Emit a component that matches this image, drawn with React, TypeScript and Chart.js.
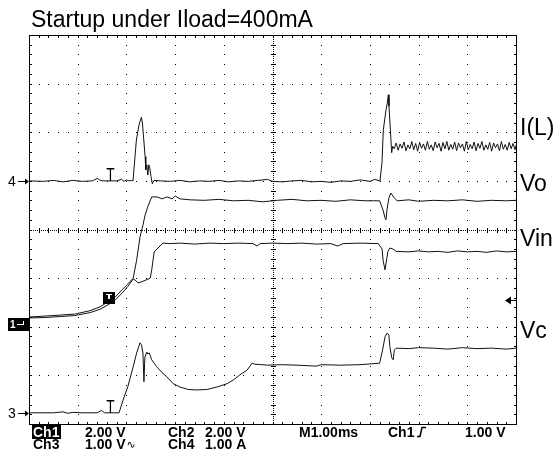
import React, { useEffect, useRef } from "react";
import { Chart, registerables } from "chart.js";

Chart.register(...registerables);

// ---- Data (x: time in ms = divisions at 1.00 ms/div, y: screen divisions 0..8) ----
const titleText = "Startup under Iload=400mA";

const iLTime = [
  0, 0.3, 0.5, 0.7, 0.9, 1.1, 1.3, 1.4, 1.45, 1.5, 1.6, 1.8, 1.9, 1.95, 2.0, 2.05, 2.1, 2.136,
  2.171, 2.205, 2.259, 2.308, 2.329, 2.357, 2.384, 2.398, 2.419, 2.44, 2.46, 2.48, 2.505, 2.532, 2.567,
  2.7, 2.9, 3.1, 3.3, 3.5, 3.7, 3.9, 4.1, 4.3, 4.5, 4.7, 4.9, 5.0, 5.2, 5.4, 5.6, 5.8, 6.0, 6.2, 6.4,
  6.6, 6.8, 7.0, 7.1, 7.207, 7.248, 7.276, 7.331, 7.357, 7.378, 7.392, 7.421, 7.447, 7.468,
  7.5, 7.54, 7.58, 7.62, 7.66, 7.7, 7.74, 7.78, 7.82, 7.86, 7.9, 7.94, 7.98, 8.02, 8.06, 8.1, 8.14,
  8.18, 8.22, 8.26, 8.3, 8.34, 8.38, 8.42, 8.46, 8.5, 8.54, 8.58, 8.62, 8.66, 8.7, 8.74, 8.78, 8.82,
  8.86, 8.9, 8.94, 8.98, 9.02, 9.06, 9.1, 9.14, 9.18, 9.22, 9.26, 9.3, 9.34, 9.38, 9.42, 9.46, 9.5,
  9.54, 9.58, 9.62, 9.66, 9.7, 9.74, 9.78, 9.82, 9.86, 9.9, 9.94, 9.98, 10.0,
];
const iLValue = [
  5.0, 4.99, 5.01, 4.98, 5.01, 4.99, 5.0, 5.05, 5.02, 5.0, 5.0, 5.0, 5.03, 4.99, 5.02, 5.0, 5.01, 5.0,
  5.43, 5.84, 6.15, 6.31, 6.19, 5.84, 5.5, 5.23, 5.33, 5.12, 5.33, 5.27, 5.09, 4.94, 5.01,
  5.0, 4.99, 5.01, 4.98, 5.0, 4.99, 5.01, 4.98, 5.0, 4.99, 5.01, 5.03, 4.99, 4.98, 5.0, 5.01, 4.98, 4.99, 4.97, 5.0,
  4.99, 5.02, 4.99, 5.03, 5.0, 5.37, 6.05, 6.46, 6.6, 6.77, 6.53, 6.05, 5.58, 5.71,
  5.66, 5.78, 5.63, 5.76, 5.67, 5.8, 5.62, 5.74, 5.66, 5.81, 5.64, 5.77, 5.61, 5.79, 5.67, 5.76, 5.63,
  5.81, 5.65, 5.74, 5.62, 5.8, 5.68, 5.77, 5.61, 5.79, 5.66, 5.81, 5.63, 5.75, 5.65, 5.8, 5.62, 5.78,
  5.68, 5.76, 5.61, 5.81, 5.64, 5.75, 5.66, 5.8, 5.62, 5.77, 5.67, 5.81, 5.63, 5.74, 5.65, 5.79, 5.61,
  5.78, 5.68, 5.76, 5.62, 5.81, 5.65, 5.75, 5.63, 5.79, 5.66, 5.77, 5.64, 5.73,
];

const voTime = [
  0, 0.33, 0.64, 0.94, 1.25, 1.46, 1.62, 1.77, 1.91, 2.03, 2.14, 2.21, 2.28, 2.34, 2.38, 2.44, 2.52,
  2.63, 2.73, 2.83, 2.94, 3.0, 3.1, 3.31, 3.6, 3.9, 4.2, 4.5, 4.8, 5.1, 5.4, 5.7, 6.0, 6.3, 6.6, 6.9,
  7.2, 7.27, 7.31, 7.33, 7.35, 7.39, 7.43, 7.5, 7.56, 7.8, 8.0, 8.3, 8.6, 8.9, 9.2, 9.5, 9.8, 10.0,
];
const voValue = [
  2.2, 2.22, 2.24, 2.26, 2.33, 2.41, 2.51, 2.61, 2.76, 2.88, 3.0, 3.37, 3.85, 4.09, 4.28, 4.47, 4.67,
  4.67, 4.63, 4.67, 4.63, 4.69, 4.63, 4.61, 4.6, 4.62, 4.59, 4.6, 4.57, 4.6, 4.62, 4.59, 4.6, 4.58, 4.61, 4.59,
  4.59, 4.4, 4.24, 4.2, 4.4, 4.65, 4.75, 4.65, 4.59, 4.61, 4.58, 4.6, 4.59, 4.61, 4.58, 4.6, 4.59, 4.6,
];

const vinTime = [
  0, 0.33, 0.64, 0.94, 1.25, 1.46, 1.62, 1.77, 1.91, 2.03, 2.14, 2.18, 2.24, 2.3, 2.4, 2.49, 2.52,
  2.57, 2.63, 2.69, 2.75, 2.9, 3.1, 3.4, 3.7, 4.0, 4.3, 4.6, 4.68, 4.75, 5.0, 5.3, 5.6, 5.9, 6.2, 6.34,
  6.45, 6.8, 7.17, 7.25, 7.27, 7.31, 7.35, 7.37, 7.41, 7.47, 7.54, 7.8, 8.0, 8.2, 8.4, 8.6, 8.8, 9.0,
  9.2, 9.4, 9.6, 9.8, 10.0,
];
const vinValue = [
  2.18, 2.19, 2.21, 2.23, 2.29, 2.36, 2.45, 2.55, 2.69, 2.83, 2.98, 2.96, 2.9, 2.92, 2.96, 3.0, 3.17,
  3.54, 3.6, 3.66, 3.72, 3.71, 3.72, 3.7, 3.72, 3.71, 3.72, 3.71, 3.66, 3.71, 3.72, 3.71, 3.72, 3.7, 3.71, 3.66,
  3.71, 3.72, 3.71, 3.6, 3.37, 3.17, 3.42, 3.55, 3.62, 3.6, 3.55, 3.54, 3.56, 3.54, 3.55, 3.53, 3.56, 3.54,
  3.55, 3.53, 3.56, 3.54, 3.55,
];

const vcTime = [
  0, 0.5, 0.7, 0.8, 0.9, 1.1, 1.4, 1.49, 1.55, 1.85, 1.93, 2.03, 2.14, 2.21, 2.28, 2.31, 2.34, 2.36,
  2.38, 2.42, 2.44, 2.47, 2.52, 2.62, 2.72, 2.83, 2.96, 3.1, 3.27, 3.44, 3.65, 3.86, 4.07, 4.2, 4.33,
  4.48, 4.58, 4.64, 4.9, 5.2, 5.5, 5.9, 6.0, 6.4, 6.8, 7.2, 7.26, 7.31, 7.35, 7.39, 7.41, 7.45, 7.48,
  7.5, 7.54, 7.8, 8.0, 8.3, 8.6, 8.9, 9.2, 9.5, 9.8, 10.0,
];
const vcValue = [
  0.23, 0.23, 0.25, 0.22, 0.24, 0.23, 0.23, 0.28, 0.23, 0.23, 0.49, 0.77, 1.18, 1.46, 1.67, 1.63, 1.46, 0.87,
  1.38, 1.48, 1.44, 1.46, 1.32, 1.18, 1.07, 0.97, 0.83, 0.76, 0.71, 0.7, 0.71, 0.76, 0.83, 0.91, 1.01,
  1.11, 1.25, 1.23, 1.21, 1.22, 1.21, 1.19, 1.22, 1.21, 1.22, 1.25, 1.52, 1.79, 1.87, 1.83, 1.59, 1.36, 1.32,
  1.52, 1.56, 1.55, 1.57, 1.56, 1.54, 1.57, 1.55, 1.56, 1.54, 1.56,
];

// channel labels at right and their text baselines (in divisions)
const traceLabels = ["I(L)", "Vo", "Vin", "Vc"];
const traceLabelLevels = [5.95, 4.8, 3.67, 1.77];

// ground reference markers at left (divisions)
const groundMarkers = ["4", "3"];
const groundLevels = [5.0, 0.23];
const ch1GroundLevel = 2.05;

// trigger
const triggerTime = 1.67;
const triggerLevel = 2.55;
const triggerMarkLevels = [5.0, 0.23];
const triggerBoxLevel = 2.6;

// readout rows
const readoutRow1 = ["Ch1", "2.00 V", "Ch2", "2.00 V", "M1.00ms", "Ch1", "1.00 V"];
const readoutRow2 = ["Ch3", "1.00 V", "Ch4", "1.00 A"];

const X_DIVS = 10;
const Y_DIVS = 8;

const FONT = "'Liberation Sans', Arial, Helvetica, sans-serif";

const graticulePlugin = {
  id: "graticule",
  beforeDatasetsDraw(chart: any) {
    const { ctx, chartArea: a, scales } = chart;
    const xs = scales.x;
    const ys = scales.y;
    ctx.save();
    ctx.fillStyle = "#000";
    ctx.strokeStyle = "#000";
    ctx.lineWidth = 1;
    // frame
    ctx.strokeRect(Math.round(a.left) + 0.5, Math.round(a.top) + 0.5, Math.round(a.right - a.left), Math.round(a.bottom - a.top));
    // dotted major lines
    for (let gx = 1; gx < X_DIVS; gx++) {
      if (gx === X_DIVS / 2) continue;
      const px = Math.round(xs.getPixelForValue(gx));
      for (let k = 0; k <= Y_DIVS * 5; k++) {
        const py = Math.round(ys.getPixelForValue(k * 0.2));
        ctx.fillRect(px, py, 1, 1);
      }
    }
    for (let gy = 1; gy < Y_DIVS; gy++) {
      if (gy === Y_DIVS / 2) continue;
      const py = Math.round(ys.getPixelForValue(gy));
      for (let k = 0; k <= X_DIVS * 5; k++) {
        const px = Math.round(xs.getPixelForValue(k * 0.2));
        ctx.fillRect(px, py, 1, 1);
      }
    }
    // center cross with fine dots and minor ticks
    const cx = Math.round(xs.getPixelForValue(X_DIVS / 2));
    const cy = Math.round(ys.getPixelForValue(Y_DIVS / 2));
    for (let k = 0; k <= Y_DIVS * 25; k++) {
      const py = Math.round(ys.getPixelForValue(k * 0.04));
      ctx.fillRect(cx, py, 1, 1);
    }
    for (let k = 0; k <= X_DIVS * 25; k++) {
      const px = Math.round(xs.getPixelForValue(k * 0.04));
      ctx.fillRect(px, cy, 1, 1);
    }
    for (let k = 0; k <= Y_DIVS * 5; k++) {
      const py = Math.round(ys.getPixelForValue(k * 0.2));
      ctx.fillRect(cx - 2, py, 5, 1);
      ctx.fillRect(Math.round(a.left), py, 3, 1);
      ctx.fillRect(Math.round(a.right) - 2, py, 3, 1);
    }
    for (let k = 0; k <= X_DIVS * 5; k++) {
      const px = Math.round(xs.getPixelForValue(k * 0.2));
      ctx.fillRect(px, cy - 2, 1, 5);
      ctx.fillRect(px, Math.round(a.top), 1, 3);
      ctx.fillRect(px, Math.round(a.bottom) - 2, 1, 3);
    }
    ctx.restore();
  },
  afterDraw(chart: any) {
    const { ctx, chartArea: a, scales } = chart;
    const xs = scales.x;
    const ys = scales.y;
    ctx.save();
    ctx.fillStyle = "#000";
    ctx.strokeStyle = "#000";
    ctx.textBaseline = "alphabetic";
    ctx.textAlign = "left";

    // title
    ctx.font = `23px ${FONT}`;
    ctx.fillText(titleText, 31, 27);

    // right labels
    traceLabels.forEach((t, i) => {
      ctx.fillText(t, a.right + 4, ys.getPixelForValue(traceLabelLevels[i]));
    });

    // ground markers
    ctx.font = `14px ${FONT}`;
    groundMarkers.forEach((t, i) => {
      const py = Math.round(ys.getPixelForValue(groundLevels[i]));
      ctx.fillText(t, 8, py + 5);
      ctx.fillRect(18, py, 8, 1);
      ctx.beginPath();
      ctx.moveTo(a.left, py + 0.5);
      ctx.lineTo(a.left - 4, py - 2.5);
      ctx.lineTo(a.left - 4, py + 3.5);
      ctx.closePath();
      ctx.fill();
    });
    // ch1 ground marker (inverse box)
    {
      const py = Math.round(ys.getPixelForValue(ch1GroundLevel));
      ctx.fillRect(8, py - 6, 21, 13);
      ctx.fillStyle = "#fff";
      ctx.font = `bold 10px ${FONT}`;
      ctx.fillText("1", 10, py + 4);
      ctx.fillRect(17, py, 6, 1);
      ctx.fillRect(23, py - 3, 1, 4);
      ctx.fillStyle = "#000";
    }

    // trigger "T" markers on traces
    const tx = xs.getPixelForValue(triggerTime);
    ctx.font = `19px ${FONT}`;
    ctx.textAlign = "center";
    triggerMarkLevels.forEach((lv) => {
      const py = ys.getPixelForValue(lv);
      ctx.save();
      ctx.translate(tx, py + 0.5);
      ctx.scale(0.72, 1);
      ctx.fillText("T", 0, 0);
      ctx.restore();
    });
    // inverse T box on Ch1
    {
      const py = ys.getPixelForValue(triggerBoxLevel);
      ctx.fillRect(Math.round(tx) - 7, Math.round(py) - 6, 12, 12);
      ctx.fillStyle = "#fff";
      ctx.fillRect(Math.round(tx) - 4, Math.round(py) - 4, 6, 1);
      ctx.fillRect(Math.round(tx) - 2, Math.round(py) - 4, 2, 5);
      ctx.fillStyle = "#000";
    }
    // trigger level arrow at right
    {
      const py = Math.round(ys.getPixelForValue(triggerLevel)) + 0.5;
      const rx = Math.round(a.right);
      ctx.beginPath();
      ctx.moveTo(rx - 11, py);
      ctx.lineTo(rx - 5, py - 4);
      ctx.lineTo(rx - 5, py + 4);
      ctx.closePath();
      ctx.fill();
      ctx.fillRect(rx - 5, py - 0.5, 5, 1);
    }

    // readout
    ctx.textAlign = "left";
    ctx.font = `bold 14px ${FONT}`;
    const r1y = a.bottom + 13;
    const r2y = a.bottom + 25;
    // inverse Ch1
    ctx.fillRect(32, r1y - 12, 29, 14);
    ctx.fillStyle = "#fff";
    ctx.fillText(readoutRow1[0], 33, r1y);
    ctx.fillStyle = "#000";
    const r1x = [33, 85, 168, 205, 299, 388, 465];
    for (let i = 1; i < readoutRow1.length; i++) ctx.fillText(readoutRow1[i], r1x[i], r1y);
    // slope symbol
    ctx.lineWidth = 1.5;
    ctx.beginPath();
    ctx.moveTo(417, r1y - 0.5);
    ctx.lineTo(420, r1y - 0.5);
    ctx.lineTo(422, r1y - 9.5);
    ctx.lineTo(426, r1y - 9.5);
    ctx.stroke();
    const r2x = [33, 85, 168, 205];
    readoutRow2.forEach((t, i) => ctx.fillText(t, r2x[i], r2y));
    const vw = ctx.measureText(readoutRow2[1]).width;
    ctx.font = `11px 'DejaVu Sans', sans-serif`;
    ctx.fillText("\u223F", 85 + vw + 1, r2y - 1);
    ctx.restore();
  },
};

function toPoints(t: number[], v: number[]) {
  return t.map((x, i) => ({ x, y: v[i] }));
}

export default function App() {
  const ref = useRef<HTMLCanvasElement | null>(null);
  useEffect(() => {
    document.body.style.margin = "0";
    const canvas = ref.current;
    if (!canvas) return;
    const line = (label: string, t: number[], v: number[]) => ({
      label,
      data: toPoints(t, v),
      borderColor: "#111",
      borderWidth: 1,
      pointRadius: 0,
      tension: 0,
      fill: false,
    });
    const chart = new Chart(canvas, {
      type: "line",
      data: {
        datasets: [
          line("I(L)", iLTime, iLValue),
          line("Vo", voTime, voValue),
          line("Vin", vinTime, vinValue),
          line("Vc", vcTime, vcValue),
        ],
      },
      options: {
        responsive: false,
        animation: false,
        layout: { padding: { left: 29, top: 35, right: 42, bottom: 32 } },
        plugins: { legend: { display: false }, tooltip: { enabled: false }, title: { display: false } },
        scales: {
          x: { type: "linear", min: 0, max: X_DIVS, display: false },
          y: { type: "linear", min: 0, max: Y_DIVS, display: false },
        },
      },
      plugins: [graticulePlugin],
    });
    return () => chart.destroy();
  }, []);
  return (
    <div style={{ position: "fixed", left: 0, top: 0, width: 558, height: 456, background: "#fff" }}>
      <canvas ref={ref} width={558} height={456} />
    </div>
  );
}
